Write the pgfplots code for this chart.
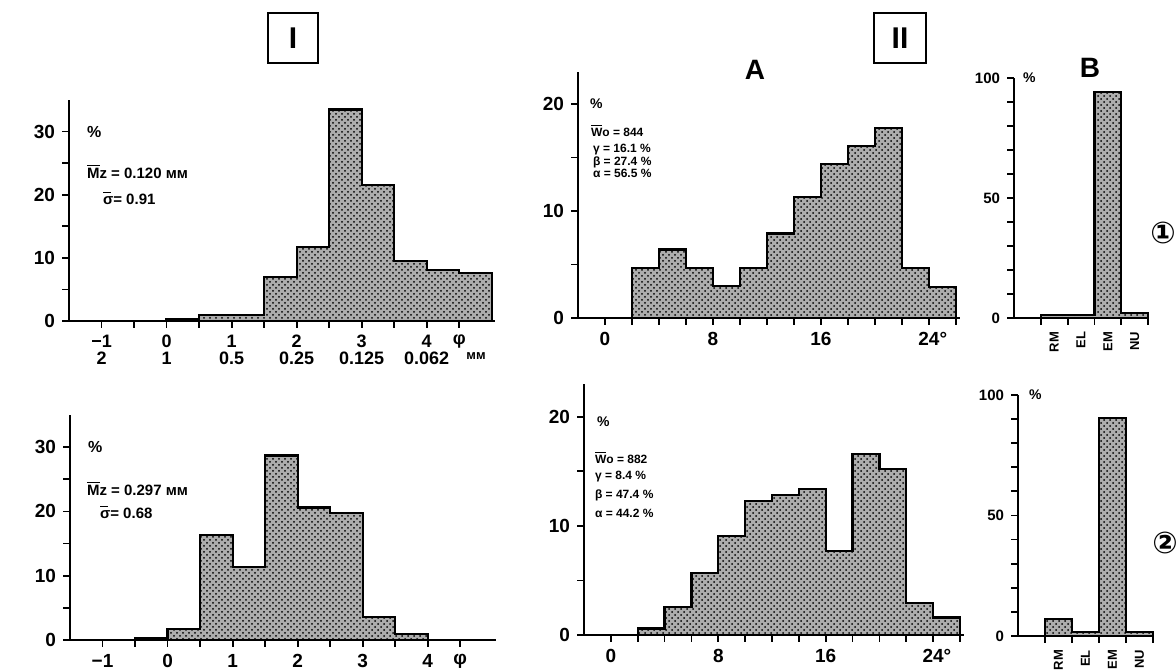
\documentclass[border=0pt]{standalone}
\usepackage{fontspec}
\setmainfont{Liberation Sans}
\newfontfamily\dejavu{DejaVu Sans}
\usepackage{pgfplots}
\pgfplotsset{compat=1.18}
\usetikzlibrary{patterns}

\newcommand{\barsigma}{\makebox[0pt][l]{\rule[5.6pt]{3.8pt}{0.6pt}}σ}

\pgfplotsset{
  panel/.style={scale only axis, anchor=south west, axis lines=left,
    axis line style={-, line width=1.1pt},
    tick style={black, line width=0.9pt},
    tick align=outside, major tick length=3.5pt, minor tick length=3.5pt,
    ymin=0, clip=false, /pgf/number format/assume math mode=true,
    ticklabel style={font=\fontsize{9.5}{9.5}\selectfont\bfseries},
  },
  hist/.style={const plot, draw=black, line width=1.1pt, fill=black!32,
    postaction={pattern=crosshatch dots, pattern color=black}},
}

\begin{document}
\bfseries
\begin{tikzpicture}
\path[use as bounding box] (0,0) rectangle (588pt,336pt);

% ---------- Panel I, row 1
\begin{axis}[panel, at={(34.5pt,175.5pt)}, width=213pt, height=110.5pt,
  xmin=-1.5, xmax=5.05, ymax=35,
  xtick={-1,0,1,2,3,4,4.5},
  xticklabels={{−1\\2},{0\\1},{1\\0.5},{2\\0.25},{3\\0.125},{4\\0.062},{φ}},
  xticklabel style={align=center, font=\fontsize{9}{8.5}\selectfont\bfseries},
  minor xtick={-0.5,0.5,1.5,2.5,3.5},
  ytick={0,10,20,30}, minor ytick={5,15,25}]
\addplot[hist] coordinates {(0,0.3)(0.5,1.0)(1.5,7)(2,11.7)(2.5,33.5)(3,21.6)(3.5,9.5)(4,8.1)(4.5,7.6)(5,7.6)} \closedcycle;
\end{axis}

% ---------- Panel I, row 2
\begin{axis}[panel, at={(35pt,16pt)}, width=213pt, height=112.5pt,
  xmin=-1.5, xmax=5.05, ymax=35,
  xtick={-1,0,1,2,3,4,4.5},
  xticklabels={−1,0,1,2,3,4,φ},
  minor xtick={-0.5,0.5,1.5,2.5,3.5},
  ytick={0,10,20,30}, minor ytick={5,15,25}]
\addplot[hist] coordinates {(-0.5,0.3)(0,1.7)(0.5,16.3)(1,11.3)(1.5,28.7)(2,20.6)(2.5,19.7)(3,3.6)(3.5,0.9)(4,0.9)} \closedcycle;
\end{axis}

% ---------- Panel II A, row 1
\begin{axis}[panel, at={(289pt,177pt)}, width=191pt, height=123pt,
  xmin=-2, xmax=26.3, ymax=23,
  xtick={0,8,16,24}, xticklabels={0,8,16,24\rlap{°}},
  minor xtick={2,4,6,10,12,14,18,20,22,26},
  ytick={0,10,20}, minor ytick={5,15}]
\addplot[hist] coordinates {(2,4.7)(4,6.4)(6,4.7)(8,3.0)(10,4.7)(12,7.9)(14,11.3)(16,14.4)(18,16.1)(20,17.8)(22,4.7)(24,2.9)(26,2.9)} \closedcycle;
\end{axis}

% ---------- Panel II A, row 2
\begin{axis}[panel, at={(292pt,18.5pt)}, width=190pt, height=125.5pt,
  xmin=-2, xmax=26.3, ymax=23,
  xtick={0,8,16,24}, xticklabels={0,8,16,24\rlap{°}},
  minor xtick={2,4,6,10,12,14,18,20,22,26},
  ytick={0,10,20}, minor ytick={5,15}]
\addplot[hist] coordinates {(2,0.6)(4,2.6)(6,5.7)(8,9.1)(10,12.3)(12,12.8)(14,13.4)(16,7.7)(18,16.6)(20,15.2)(22,2.9)(24,1.6)(26,1.6)} \closedcycle;
\end{axis}

% ---------- Panel II B, row 1
\begin{axis}[panel, at={(507pt,177pt)}, width=67pt, height=120pt,
  xmin=0, xmax=5, ymax=100,
  xtick={1.5,2.5,3.5,4.5}, xticklabels={RM,EL,EM,NU},
  major x tick style={draw=none}, minor xtick={1,2,3,4,5},
  xticklabel style={rotate=90, anchor=east, font=\fontsize{6.5}{6.5}\selectfont\bfseries},
  ytick={0,50,100}, minor ytick={10,20,30,40,60,70,80,90},
  yticklabel style={font=\fontsize{7.5}{7.5}\selectfont\bfseries}]
\addplot[hist] coordinates {(1,1.3)(2,1.3)(3,94)(4,2.2)(5,2.2)} \closedcycle;
\end{axis}

% ---------- Panel II B, row 2
\begin{axis}[panel, at={(509pt,18pt)}, width=67.5pt, height=120.5pt,
  xmin=0, xmax=5, ymax=100,
  xtick={1.5,2.5,3.5,4.5}, xticklabels={RM,EL,EM,NU},
  major x tick style={draw=none}, minor xtick={1,2,3,4,5},
  xticklabel style={rotate=90, anchor=east, font=\fontsize{6.5}{6.5}\selectfont\bfseries},
  ytick={0,50,100}, minor ytick={10,20,30,40,60,70,80,90},
  yticklabel style={font=\fontsize{7.5}{7.5}\selectfont\bfseries}]
\addplot[hist] coordinates {(1,7)(2,1.5)(3,90.5)(4,1.5)(5,1.5)} \closedcycle;
\end{axis}

% ---------- headers
\node[draw, line width=1.3pt, minimum width=25pt, minimum height=25pt, font=\fontsize{15}{15}\selectfont] at (146.5pt,317pt) {I};
\node[draw, line width=1.3pt, minimum width=26pt, minimum height=25pt, font=\fontsize{15}{15}\selectfont] at (450pt,317pt) {II};
\node[font=\fontsize{14}{14}\selectfont] at (377.5pt,301pt) {A};
\node[font=\fontsize{14}{14}\selectfont] at (545pt,302pt) {B};
\node[font=\dejavu\fontsize{15}{15}\selectfont] at (581.5pt,219.5pt) {①};
\node[font=\dejavu\fontsize{15}{15}\selectfont] at (582.5pt,64.5pt) {②};

% ---------- annotations panel I
\node[anchor=west, font=\fontsize{8}{8}\selectfont] at (40pt,270pt) {\%};
\node[anchor=west, font=\fontsize{7.5}{7.5}\selectfont] at (40pt,250.5pt) {\(\overline{\mbox{M}}\)z = 0.120 мм};
\node[anchor=west, font=\fontsize{7.5}{7.5}\selectfont] at (48pt,237pt) {\barsigma{}= 0.91};
\node[font=\fontsize{6.5}{6.5}\selectfont] at (238pt,158pt) {мм};

\node[anchor=west, font=\fontsize{8}{8}\selectfont] at (40.5pt,112.5pt) {\%};
\node[anchor=west, font=\fontsize{7.5}{7.5}\selectfont] at (40pt,92pt) {\(\overline{\mbox{M}}\)z = 0.297 мм};
\node[anchor=west, font=\fontsize{7.5}{7.5}\selectfont] at (46.5pt,80pt) {\barsigma{}= 0.68};

% ---------- annotations panel II A
\node[anchor=west, font=\fontsize{7}{7}\selectfont] at (291.5pt,284pt) {\%};
\node[anchor=west, font=\fontsize{6}{6}\selectfont] at (292pt,271pt) {\(\overline{\mbox{W}}\)o = 844};
\node[anchor=west, font=\fontsize{6}{6}\selectfont] at (293pt,261pt) {γ = 16.1 \%};
\node[anchor=west, font=\fontsize{6}{6}\selectfont] at (293pt,255pt) {β = 27.4 \%};
\node[anchor=west, font=\fontsize{6}{6}\selectfont] at (293pt,249.5pt) {α = 56.5 \%};

\node[anchor=west, font=\fontsize{7}{7}\selectfont] at (295pt,125pt) {\%};
\node[anchor=west, font=\fontsize{6}{6}\selectfont] at (294pt,107.5pt) {\(\overline{\mbox{W}}\)o = 882};
\node[anchor=west, font=\fontsize{6}{6}\selectfont] at (294pt,97.5pt) {γ = 8.4 \%};
\node[anchor=west, font=\fontsize{6}{6}\selectfont] at (294pt,88.5pt) {β = 47.4 \%};
\node[anchor=west, font=\fontsize{6}{6}\selectfont] at (294pt,79.5pt) {α = 44.2 \%};

% ---------- annotations panel II B
\node[anchor=west, font=\fontsize{7}{7}\selectfont] at (508pt,297pt) {\%};
\node[anchor=west, font=\fontsize{7}{7}\selectfont] at (511pt,138.5pt) {\%};
\end{tikzpicture}
\end{document}
